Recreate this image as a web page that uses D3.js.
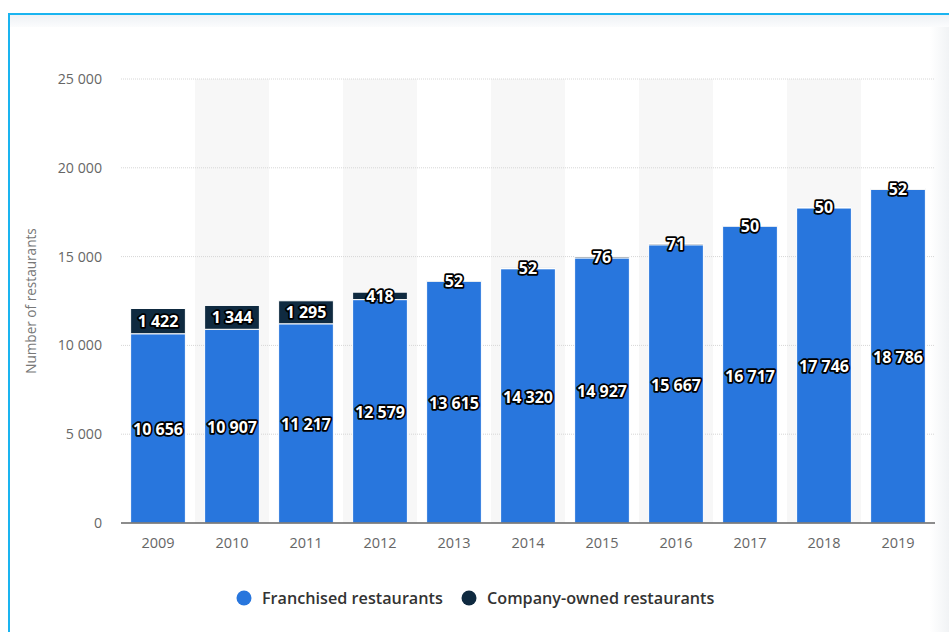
<!DOCTYPE html>
<html>
<head>
<meta charset="utf-8">
<script src="https://cdn.jsdelivr.net/npm/d3@7"></script>
<style>
  html, body { margin: 0; padding: 0; background: #fff; }
  svg { display: block; }
</style>
</head>
<body>
<svg id="chart" width="949" height="632"></svg>
<script>
const years = ["2009","2010","2011","2012","2013","2014","2015","2016","2017","2018","2019"];
const franchised = [10656, 10907, 11217, 12579, 13615, 14320, 14927, 15667, 16717, 17746, 18786];
const companyOwned = [1422, 1344, 1295, 418, 52, 52, 76, 71, 50, 50, 52];
const yTicks = [0, 5000, 10000, 15000, 20000, 25000];
const seriesNames = ["Franchised restaurants", "Company-owned restaurants"];
const seriesColors = ["#2876dd", "#0f2a40"];

(function () {
const svg = d3.select("#chart");
const W = 949, H = 632;
const font = "'Open Sans', 'Liberation Sans', sans-serif";

// frame
const defs = svg.append("defs");
const grad = defs.append("linearGradient").attr("id", "topband").attr("x1", 0).attr("y1", 0).attr("x2", 0).attr("y2", 1);
grad.append("stop").attr("offset", "0%").attr("stop-color", "#eef1f5");
grad.append("stop").attr("offset", "100%").attr("stop-color", "#fbfcfd");
const gradR = defs.append("linearGradient").attr("id", "rightshade").attr("x1", 0).attr("y1", 0).attr("x2", 1).attr("y2", 0);
gradR.append("stop").attr("offset", "0%").attr("stop-color", "#ffffff");
gradR.append("stop").attr("offset", "100%").attr("stop-color", "#f1f3f5");
svg.append("rect").attr("x", 9).attr("y", 15).attr("width", W - 9).attr("height", 12).attr("fill", "url(#topband)");
svg.append("rect").attr("x", 930).attr("y", 27).attr("width", 19).attr("height", H - 27).attr("fill", "url(#rightshade)");
svg.append("rect").attr("x", 8).attr("y", 13).attr("width", W - 8).attr("height", 2).attr("fill", "#1ab4f0");
svg.append("rect").attr("x", 8).attr("y", 13).attr("width", 2).attr("height", H - 13).attr("fill", "#1ab4f0");

const pLeft = 121, pRight = 935, pTop = 79, pBottom = 523;
const x = d3.scaleBand().domain(years).range([pLeft, pRight]).paddingInner(0.26).paddingOuter(0.13);
const y = d3.scaleLinear().domain([0, 25000]).range([pBottom, pTop]);
const step = x.step();

// alternating bands
svg.append("g").selectAll("rect").data(years.filter((d, i) => i % 2 === 1)).join("rect")
  .attr("x", d => x(d) + x.bandwidth() / 2 - step / 2)
  .attr("width", step)
  .attr("y", pTop).attr("height", pBottom - pTop)
  .attr("fill", "#f7f7f7");

// gridlines
svg.append("g").selectAll("line").data(yTicks.filter(t => t > 0)).join("line")
  .attr("x1", pLeft).attr("x2", pRight)
  .attr("y1", d => y(d)).attr("y2", d => y(d))
  .attr("stroke", "#d6d6d6").attr("stroke-width", 1).attr("stroke-dasharray", "1,1");

// y axis
const yAxis = d3.axisLeft(y).tickValues(yTicks).tickSize(0).tickPadding(19)
  .tickFormat(d => d3.format(",")(d).replace(/,/g, " "));
const gy = svg.append("g").attr("transform", `translate(${pLeft},0)`).call(yAxis);
gy.select(".domain").remove();
gy.selectAll("text").attr("fill", "#666").attr("font-size", 14.2).attr("font-family", font);

// y title
svg.append("text").attr("transform", `translate(36,${(pTop + pBottom) / 2}) rotate(-90)`)
  .attr("text-anchor", "middle").attr("fill", "#777").attr("font-size", 13.6).attr("font-family", font)
  .text("Number of restaurants");

// stacked bars
const data = years.map((yr, i) => ({ year: yr, f: franchised[i], c: companyOwned[i] }));
const g = svg.append("g");
g.selectAll("rect.f").data(data).join("rect").attr("class", "f")
  .attr("x", d => x(d.year)).attr("width", x.bandwidth())
  .attr("y", d => y(d.f)).attr("height", d => y(0) - y(d.f))
  .attr("fill", seriesColors[0]).attr("stroke", "#ffffff").attr("stroke-width", 1);
g.selectAll("rect.c").data(data).join("rect").attr("class", "c")
  .attr("x", d => x(d.year)).attr("width", x.bandwidth())
  .attr("y", d => y(d.f + d.c)).attr("height", d => y(d.f) - y(d.f + d.c))
  .attr("fill", seriesColors[1]).attr("stroke", "#ffffff").attr("stroke-width", 1);

// x axis
const xAxis = d3.axisBottom(x).tickSize(0).tickPadding(15);
const gx = svg.append("g").attr("transform", `translate(0,${pBottom})`).call(xAxis);
gx.select(".domain").attr("stroke", "#666").attr("stroke-width", 1.5)
  .attr("d", `M${pLeft},0H${pRight}`);
gx.selectAll("text").attr("fill", "#666").attr("font-size", 14.5).attr("font-family", font);

// labels
const fmt = v => d3.format(",")(v).replace(/,/g, " ");
function label(sel) {
  sel.attr("text-anchor", "middle").attr("dominant-baseline", "central")
    .attr("font-family", font).attr("font-weight", "bold").attr("font-size", 16)
    .attr("fill", "#fff").attr("stroke", "#000").attr("stroke-width", 3.5)
    .attr("stroke-linejoin", "round").attr("paint-order", "stroke");
}
g.selectAll("text.fl").data(data).join("text").attr("class", "fl")
  .attr("x", d => x(d.year) + x.bandwidth() / 2)
  .attr("y", d => (y(0) + y(d.f)) / 2 + 1)
  .text(d => fmt(d.f)).call(label);
g.selectAll("text.cl").data(data).join("text").attr("class", "cl")
  .attr("x", d => x(d.year) + x.bandwidth() / 2)
  .attr("y", d => (y(d.f) + y(d.f + d.c)) / 2)
  .text(d => fmt(d.c)).call(label);

// legend
const legend = svg.append("g").attr("font-family", font);
const legendX = [244, 469];
seriesNames.forEach((name, i) => {
  legend.append("circle").attr("cx", legendX[i]).attr("cy", 598).attr("r", 7.5).attr("fill", seriesColors[i]);
  legend.append("text").attr("x", legendX[i] + 18).attr("y", 598).attr("dominant-baseline", "central")
    .attr("font-size", 16.2).attr("font-weight", 600).attr("fill", "#333").text(name);
});
})();
</script>
</body>
</html>
